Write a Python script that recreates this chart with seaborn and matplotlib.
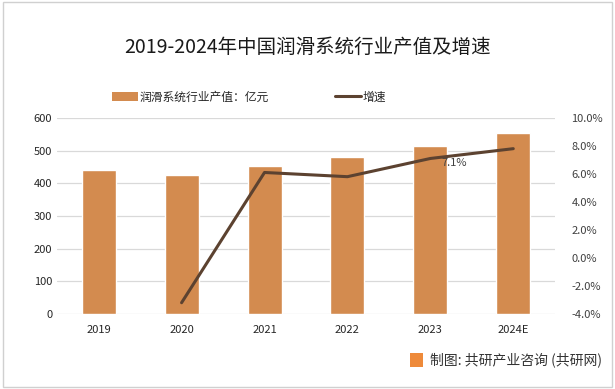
import matplotlib
matplotlib.use("Agg")
import matplotlib.pyplot as plt
import seaborn as sns
import pandas as pd
from matplotlib.patches import Patch, Rectangle
from matplotlib.lines import Line2D

years = ["2019", "2020", "2021", "2022", "2023", "2024E"]
output_value = [441, 425, 453, 480, 514, 554]
growth_years = ["2020", "2021", "2022", "2023", "2024E"]
growth = [-3.2, 6.1, 5.8, 7.1, 7.8]
left_ticks = [0, 100, 200, 300, 400, 500, 600]
right_ticks = [-4, -2, 0, 2, 4, 6, 8, 10]

sns.set_theme(style="white")
plt.rcParams["font.family"] = ["Noto Sans CJK SC", "DejaVu Sans"]

bar_color = "#D38B4F"
line_color = "#5C4230"
text_color = "#262626"

fig = plt.figure(figsize=(6.15, 3.89), dpi=100)
ax = fig.add_axes([0.093, 0.193, 0.809, 0.504])

df = pd.DataFrame({"year": years, "value": output_value})
sns.barplot(data=df, x="year", y="value", order=years, color=bar_color,
            width=0.41, saturation=1, ax=ax)
ax.set_ylim(0, 600)
ax.set_yticks(left_ticks)
ax.set_xlim(-0.5, 5.5)
ax.yaxis.grid(True, color="#D9D9D9", linewidth=0.9)
ax.set_axisbelow(True)
for s in ax.spines.values():
    s.set_visible(False)
ax.set_xlabel("")
ax.set_ylabel("")
ax.tick_params(axis="both", length=0, labelsize=8, colors=text_color)
ax.tick_params(axis="x", pad=8)

ax2 = ax.twinx()
gdf = pd.DataFrame({"pos": [years.index(y) for y in growth_years], "g": growth})
sns.lineplot(data=gdf, x="pos", y="g", color=line_color, linewidth=2.2, ax=ax2)
ax2.set_ylim(-4, 10)
ax2.set_yticks(right_ticks)
ax2.set_yticklabels([f"{t:.1f}%" for t in right_ticks])
ax2.set_xlim(-0.5, 5.5)
ax2.set_ylabel("")
ax2.set_xlabel("")
for s in ax2.spines.values():
    s.set_visible(False)
ax2.tick_params(axis="y", length=0, labelsize=8, colors="#404040", pad=12)

i23 = growth_years.index("2023")
ax2.annotate(f"{growth[i23]:.1f}%", (years.index("2023"), growth[i23]),
             xytext=(17, -3), textcoords="offset points", ha="center", va="center",
             fontsize=8, color="#404040")

fig.text(0.5, 0.878, "2019-2024年中国润滑系统行业产值及增速", ha="center", va="center",
         fontsize=14, color="#1a1a1a")

handles = [Patch(facecolor=bar_color, edgecolor="none"),
           Line2D([0], [0], color=line_color, linewidth=2.2)]
fig.legend(handles, ["润滑系统行业产值：亿元", "增速"], loc="center",
           bbox_to_anchor=(0.405, 0.75), ncol=2, frameon=False, fontsize=8.5,
           handlelength=2.2, handleheight=0.8, columnspacing=5.6, handletextpad=0.15,
           labelcolor=text_color)

fig.add_artist(Rectangle((0.005, 0.005), 0.99, 0.99, transform=fig.transFigure,
                         fill=False, edgecolor="#D0D0D0", linewidth=1))
fig.add_artist(Rectangle((0.667, 0.056), 0.021, 0.037, transform=fig.transFigure,
                         facecolor="#EE8A3A", edgecolor="none"))
fig.text(0.7, 0.075, "制图: 共研产业咨询 (共研网)", ha="left", va="center",
         fontsize=10, color="#333333")

fig.savefig("out.png", dpi=100)
